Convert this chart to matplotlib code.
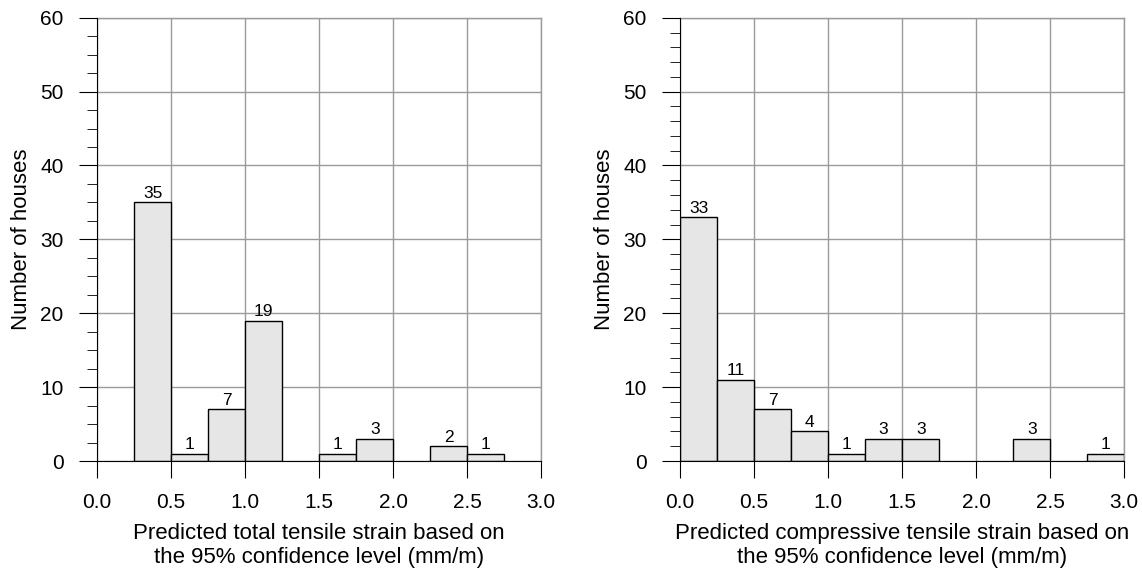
import matplotlib.pyplot as plt
from matplotlib.ticker import MultipleLocator

plt.rcParams['font.family'] = ['Liberation Sans', 'DejaVu Sans']

bin_width = 0.25

# left panel: total tensile strain
total_bins = [0.25, 0.5, 0.75, 1.0, 1.5, 1.75, 2.25, 2.5]
total_counts = [35, 1, 7, 19, 1, 3, 2, 1]

# right panel: compressive tensile strain
comp_bins = [0.0, 0.25, 0.5, 0.75, 1.0, 1.25, 1.5, 2.25, 2.75]
comp_counts = [33, 11, 7, 4, 1, 3, 3, 3, 1]

x_ticks = [0.0, 0.5, 1.0, 1.5, 2.0, 2.5, 3.0]
y_ticks = [0, 10, 20, 30, 40, 50, 60]

fig = plt.figure(figsize=(11.42, 5.72), dpi=100)
ax1 = fig.add_axes([0.085, 0.194, 0.389, 0.775])
ax2 = fig.add_axes([0.5955, 0.194, 0.389, 0.775])


def draw(ax, lefts, counts, xlabel, minor_step):
    ax.bar(lefts, counts, width=bin_width, align='edge', color='#e6e6e6',
           edgecolor='black', linewidth=1.0, zorder=3)
    for x, c in zip(lefts, counts):
        ax.text(x + bin_width / 2, c + 0.2, str(c), ha='center', va='bottom',
                fontsize=12.5, zorder=4)
    ax.set_xlim(0, 3.0)
    ax.set_ylim(0, 60)
    ax.set_xticks(x_ticks)
    ax.set_xticklabels([f'{t:.1f}' for t in x_ticks])
    ax.set_yticks(y_ticks)
    ax.yaxis.set_minor_locator(MultipleLocator(minor_step))
    ax.grid(True, which='major', color='#9a9a9a', linewidth=1.0, zorder=0)
    ax.spines['top'].set_visible(False)
    ax.spines['right'].set_visible(False)
    ax.spines['left'].set_zorder(5)
    ax.spines['bottom'].set_zorder(5)
    ax.tick_params(axis='x', which='major', length=12, direction='out',
                   labelsize=15, pad=11)
    ax.tick_params(axis='y', which='major', length=13, direction='out',
                   labelsize=15, pad=11)
    ax.tick_params(axis='y', which='minor', length=7, direction='out')
    ax.set_xlabel(xlabel, fontsize=16, labelpad=8)
    ax.set_ylabel('Number of houses', fontsize=16, labelpad=6)
    # outer edges of the frame are grid lines, not spines
    ax.axhline(60, color='#9a9a9a', linewidth=1.0, zorder=0, clip_on=False)
    ax.axvline(3.0, color='#9a9a9a', linewidth=1.0, zorder=0, clip_on=False)


draw(ax1, total_bins, total_counts,
     'Predicted total tensile strain based on\nthe 95% confidence level (mm/m)', 2.5)
draw(ax2, comp_bins, comp_counts,
     'Predicted compressive tensile strain based on\nthe 95% confidence level (mm/m)', 2.0)

fig.savefig('out.png', dpi=100)
